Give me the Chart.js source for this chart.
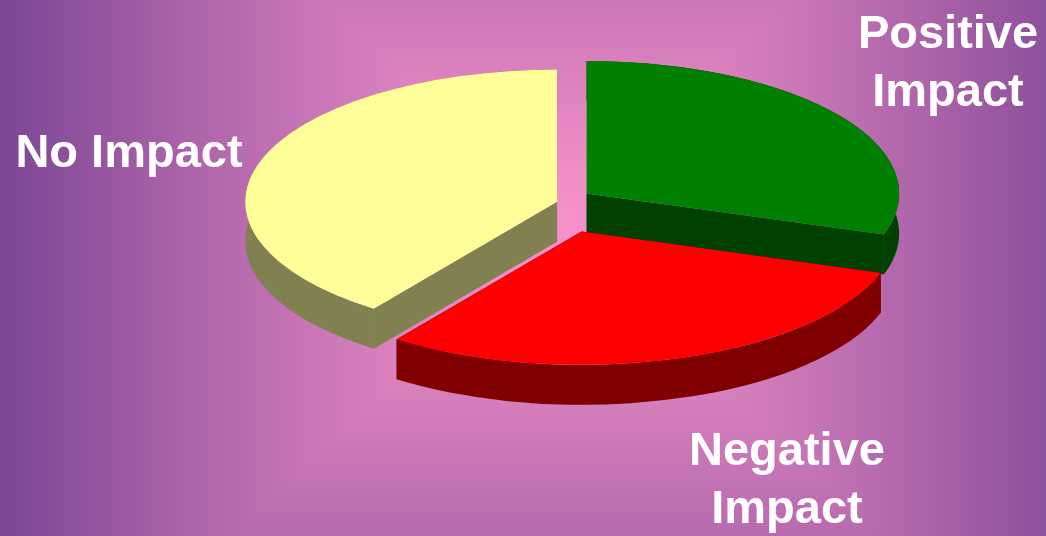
<!DOCTYPE html>
<html>
<head>
<meta charset="utf-8">
<script src="https://cdn.jsdelivr.net/npm/chart.js@4/dist/chart.umd.min.js"></script>
<style>
  html, body { margin: 0; padding: 0; overflow: hidden; background: #c070b0; }
  #wrap { width: 1046px; height: 536px; }
</style>
</head>
<body>
<div id="wrap"><canvas id="impactPie" width="1046" height="536"></canvas></div>
<script>
const categories = ['Positive Impact', 'Negative Impact', 'No Impact']
const shares = [30, 30, 40]
const labelLines = [['Positive', 'Impact'], ['Negative', 'Impact'], ['No Impact']]

// 3d look: squash the pie vertically and hang a wall under each slice
const tilt = 0.424
const depth = 40
const sideColors = ['#004000', '#800000', '#808050']

function sliceGeom(arc) {
  const { x, y, startAngle, endAngle, outerRadius, options } = arc
  const off = (options.offset || 0) / 4
  const mid = (startAngle + endAngle) / 2
  const fix = 1 - Math.sin(Math.min(Math.PI, endAngle - startAngle))
  return {
    px: x + Math.cos(mid) * off,
    py: y + Math.sin(mid) * off,
    r: outerRadius + off * fix,
    a1: startAngle,
    a2: endAngle
  }
}

function drawWalls(ctx, arc, color) {
  const { px, py, r, a1, a2 } = sliceGeom(arc)
  const s = depth / tilt
  ctx.fillStyle = color
  // rounded outer wall
  ctx.beginPath()
  ctx.arc(px, py, r, a1, a2)
  ctx.arc(px, py + s, r, a2, a1, true)
  ctx.closePath()
  ctx.fill()
  // the two cut faces
  ;[a1, a2].forEach(a => {
    const ex = px + Math.cos(a) * r
    const ey = py + Math.sin(a) * r
    ctx.beginPath()
    ctx.moveTo(px, py)
    ctx.lineTo(ex, ey)
    ctx.lineTo(ex, ey + s)
    ctx.lineTo(px, py + s)
    ctx.closePath()
    ctx.fill()
  })
}

// rectangular "from centre" fill, pink in the middle fading to purple
function paintBackground(ctx, w, h) {
  const img = ctx.createImageData(w, h)
  const cx = 556, cy = 225, ax = 615, ay = 590
  const inner = [246, 146, 202], outer = [108, 60, 142]
  for (let j = 0; j < h; j++) {
    for (let i = 0; i < w; i++) {
      let t = Math.min(1, Math.max(Math.abs(i - cx) / ax, Math.abs(j - cy) / ay))
      t = Math.pow(t, 1.2)
      const k = (j * w + i) * 4
      img.data[k] = inner[0] + (outer[0] - inner[0]) * t
      img.data[k + 1] = inner[1] + (outer[1] - inner[1]) * t
      img.data[k + 2] = inner[2] + (outer[2] - inner[2]) * t
      img.data[k + 3] = 255
    }
  }
  ctx.putImageData(img, 0, 0)
}

const pie3d = {
  id: 'pie3d',
  beforeDraw(chart) {
    paintBackground(chart.ctx, chart.width, chart.height)
  },
  beforeDatasetsDraw(chart) {
    const ctx = chart.ctx
    const arcs = chart.getDatasetMeta(0).data
    const { x: cx, y: cy } = arcs[0]
    ctx.save()
    ctx.translate(cx, cy)
    ctx.scale(1, tilt)
    ctx.translate(-cx, -cy)
    arcs.forEach((arc, i) => drawWalls(ctx, arc, sideColors[i]))
  },
  afterDatasetsDraw(chart) {
    const ctx = chart.ctx
    ctx.restore()
    // slice names, white bold
    const spots = [[948, 48], [787, 465], [129, 167]]
    ctx.save()
    ctx.fillStyle = '#ffffff'
    ctx.font = "bold 47px 'Liberation Sans', Arial, sans-serif"
    ctx.textAlign = 'center'
    ctx.textBaseline = 'alphabetic'
    labelLines.forEach((lines, i) => {
      lines.forEach((line, n) => ctx.fillText(line, spots[i][0], spots[i][1] + n * 58))
    })
    ctx.restore()
  }
}

new Chart(document.getElementById('impactPie'), {
  type: 'pie',
  data: {
    labels: categories,
    datasets: [{
      data: shares,
      backgroundColor: ['#008000', '#ff0000', '#ffff99'],
      borderWidth: 0,
      offset: [136, 292, 8],
      clip: false
    }]
  },
  options: {
    responsive: false,
    animation: false,
    radius: 311,
    layout: { padding: { left: 72, bottom: 132 } },
    plugins: {
      legend: { display: false },
      tooltip: { enabled: false }
    },
    events: []
  },
  plugins: [pie3d]
})
</script>
</body>
</html>
